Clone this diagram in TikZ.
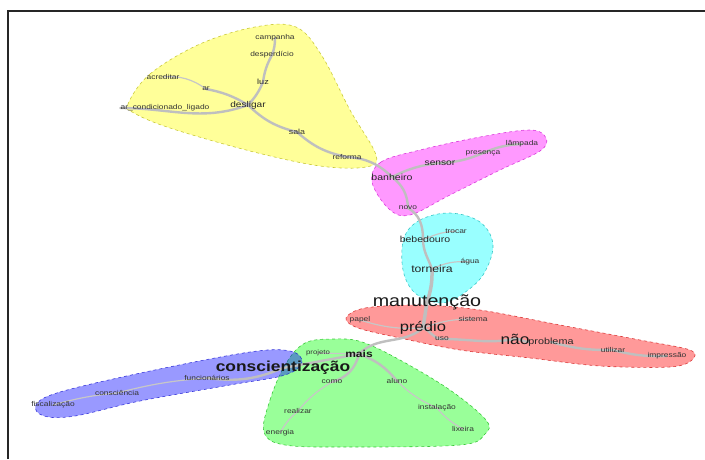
\documentclass[tikz,border=0pt]{standalone}
\usepackage{fontspec}
\newfontfamily\lab[FakeStretch=1.2]{Liberation Sans}
\usetikzlibrary{backgrounds}
\definecolor{hyel}{RGB}{255,255,0}
\definecolor{hmag}{RGB}{255,0,255}
\definecolor{hcya}{RGB}{0,255,255}
\definecolor{hred}{RGB}{255,0,0}
\definecolor{hgre}{RGB}{0,255,0}
\definecolor{hblu}{RGB}{0,0,255}
\begin{document}
\begin{tikzpicture}[x=1pt,y=-1pt,
  lbl/.style={font=\lab\fontsize{7}{8}\selectfont, text=black!80, inner sep=0pt},
  mdl/.style={font=\lab\fontsize{8.8}{10}\selectfont, text=black!85, inner sep=0pt},
  lgl/.style={font=\lab\fontsize{15}{17}\selectfont, text=black!90, inner sep=0pt},
  edge/.style={draw=black!25, line width=2.4pt, line cap=round},
  thin/.style={draw=black!22, line width=1.2pt, line cap=round},
  hull/.style={fill opacity=0.4, draw opacity=0.7, dashed, line width=0.6pt}
]
\useasboundingbox (0,0) rectangle (705,459);

% ---------- nodes ----------
% yellow
\node[lbl] (campanha) at (275,38) {campanha};
\node[lbl] (desperdicio) at (272,55) {desperdício};
\node[mdl,font=\lab\fontsize{7.5}{9}\selectfont] (luz) at (263,82) {luz};
\node[lbl] (acreditar) at (163,77) {acreditar};
\node[lbl] (ar) at (206,89) {ar};
\node[lbl] (arcond) at (165,108) {ar\_condicionado\_ligado};
\node[mdl,font=\lab\fontsize{8.4}{10}\selectfont] (desligar) at (248,105) {desligar};
\node[lbl,font=\lab\fontsize{7.4}{9}\selectfont] (sala) at (297,132) {sala};
\node[lbl] (reforma) at (347,157) {reforma};
% magenta
\node[mdl] (banheiro) at (392,177) {banheiro};
\node[mdl,font=\lab\fontsize{8.5}{10}\selectfont] (sensor) at (440,163) {sensor};
\node[lbl] (presenca) at (483,153) {presença};
\node[lbl] (lampada) at (522,144) {lâmpada};
\node[lbl] (novo) at (408,208) {novo};
% cyan
\node[mdl] (bebedouro) at (425,239) {bebedouro};
\node[lbl] (trocar) at (456,231) {trocar};
\node[mdl,font=\lab\fontsize{10.2}{12}\selectfont] (torneira) at (432,269) {torneira};
\node[lbl] (agua) at (470,262) {água};
% red
\node[lgl,font=\lab\fontsize{16.4}{18}\selectfont] (manutencao) at (427,302) {manutenção};
\node[lbl] (papel) at (360,320) {papel};
\node[lgl,font=\lab\fontsize{13.8}{16}\selectfont] (predio) at (423,328) {prédio};
\node[lbl] (sistema) at (473,319) {sistema};
\node[lbl] (uso) at (442,339) {uso};
\node[lgl,font=\lab\fontsize{14.4}{16}\selectfont] (nao) at (515,339) {não};
\node[mdl,font=\lab\fontsize{9}{10}\selectfont] (problema) at (551,342) {problema};
\node[lbl] (utilizar) at (613,350) {utilizar};
\node[lbl] (impressao) at (667,356) {impressão};
% green
\node[lgl,font=\lab\bfseries\fontsize{14.5}{17}\selectfont] (consc) at (283,368) {conscientização};
\node[lbl,font=\lab\fontsize{6.5}{8}\selectfont] (projeto) at (318,353) {projeto};
\node[lgl,font=\lab\bfseries\fontsize{10}{12}\selectfont] (mais) at (359,354) {mais};
\node[lbl] (como) at (332,382) {como};
\node[lbl] (aluno) at (397,381) {aluno};
\node[lbl] (realizar) at (298,411) {realizar};
\node[lbl] (instalacao) at (437,408) {instalação};
\node[lbl] (energia) at (280,433) {energia};
\node[lbl] (lixeira) at (463,429) {lixeira};
% blue
\node[lbl] (funcionarios) at (207,378) {funcionários};
\node[lbl] (consciencia) at (117,393) {consciência};
\node[lbl] (fiscalizacao) at (53,405) {fiscalização};

\begin{pgfonlayer}{background}
\fill[white] (0,0) rectangle (705,459);
% ---------- hulls ----------
\draw[hull, fill=hyel, draw=hyel!70!black] plot[smooth cycle, tension=0.6] coordinates
  {(128,104) (150,74) (200,44) (255,27) (296,27) (322,56) (350,110) (376,155) (366,167) (320,166) (250,151) (170,128) (134,113)};
\draw[hull, fill=hmag, draw=hmag!80!black] plot[smooth cycle, tension=0.6] coordinates
  {(372,182) (381,162) (420,150) (480,137) (530,130) (546,138) (540,151) (500,170) (450,195) (410,215) (389,209)};
\draw[hull, fill=hcya, draw=hcya!70!black] plot[smooth cycle, tension=0.6] coordinates
  {(404,238) (420,220) (450,213) (480,222) (493,245) (483,275) (461,295) (440,303) (415,293) (403,270)};
\draw[hull, fill=hred, draw=hred!80!black] plot[smooth cycle, tension=0.55] coordinates
  {(346,318) (365,308) (420,305) (480,310) (560,325) (640,340) (690,350) (692,360) (670,367) (600,366) (530,358) (460,350) (400,338) (358,328)};
\draw[hull, fill=hgre, draw=hgre!70!black] plot[smooth cycle, tension=0.6] coordinates
  {(264,432) (270,400) (285,365) (305,343) (335,339) (362,342) (400,360) (450,390) (486,420) (485,434) (460,445) (350,447) (285,445)};
\draw[hull, fill=hblu, draw=hblu!80!black] plot[smooth cycle, tension=0.6] coordinates
  {(36,405) (60,392) (150,371) (250,352) (290,351) (302,362) (285,375) (230,385) (140,401) (75,416) (44,416)};
% ---------- edges ----------
\draw[edge] (campanha.center) to[bend left=10] (desperdicio.center);
\draw[edge] (desperdicio.center) to[bend right=10] (luz.center);
\draw[edge] (luz.center) to[bend left=10] (desligar.center);
\draw[thin] (acreditar.center) to[bend left=20] (ar.center);
\draw[edge] (ar.center) to[bend left=10] (desligar.center);
\draw[edge] (arcond.west) to[out=0,in=200] (desligar.center);
\draw[edge] (desligar.center) to[bend right=15] (sala.center);
\draw[edge] (sala.center) to[bend right=15] (reforma.center);
\draw[edge] (reforma.center) to[bend left=20] (banheiro.center);
\draw[edge] (banheiro.center) to[bend left=10] (sensor.center);
\draw[edge] (sensor.center) to[bend right=10] (presenca.center);
\draw[edge] (presenca.center) to[bend left=10] (lampada.center);
\draw[edge] (banheiro.center) to[bend left=25] (novo.center);
\draw[edge] (novo.center) to[out=-30,in=90] ([xshift=-2pt]bebedouro.center);
\draw[edge] ([xshift=-2pt]bebedouro.center) to[out=-90,in=110] (torneira.center);
\draw[thin] (bebedouro.center) to[bend left=10] (trocar.center);
\draw[thin] (torneira.center) to[bend left=15] (agua.center);
\draw[edge,line width=3.5pt] (torneira.center) to[bend left=10] (manutencao.center);
\draw[edge,line width=3.5pt] (manutencao.center) -- (predio.center);
\draw[thin] (papel.center) to[bend right=10] (predio.center);
\draw[thin] (predio.center) to[bend left=10] (sistema.center);
\draw[edge] (predio.center) to[out=-20,in=180] (uso.center);
\draw[edge] (uso.center) to[out=0,in=190] (nao.center);
\draw[edge] (nao.center) to[out=10,in=180] (problema.west);
\draw[edge] (problema.center) to[bend right=8] (utilizar.center);
\draw[edge] (utilizar.center) to[bend right=8] (impressao.center);
\draw[edge] (predio.center) to[out=220,in=45] (mais.center);
\draw[edge] (mais.center) -- (consc.center);
\draw[thin] (projeto.center) -- (mais.center);
\draw[edge] (mais.center) to[bend left=30] (como.center);
\draw[edge] (mais.center) to[bend left=15] (aluno.center);
\draw[thin] (aluno.center) to[bend right=10] (instalacao.center);
\draw[thin] (instalacao.center) to[bend right=10] (lixeira.center);
\draw[thin] (como.center) to[bend right=10] (realizar.center);
\draw[thin] (realizar.center) to[bend right=10] (energia.center);
\draw[edge] (consc.center) to[bend left=15] (funcionarios.center);
\draw[thin] (funcionarios.center) to[bend right=5] (consciencia.center);
\draw[thin] (consciencia.center) to[bend right=5] (fiscalizacao.center);
\end{pgfonlayer}

% ---------- frame ----------
\draw[line width=2pt, black!85] (8,459) -- (8,11) -- (705,11);
\end{tikzpicture}
\end{document}
